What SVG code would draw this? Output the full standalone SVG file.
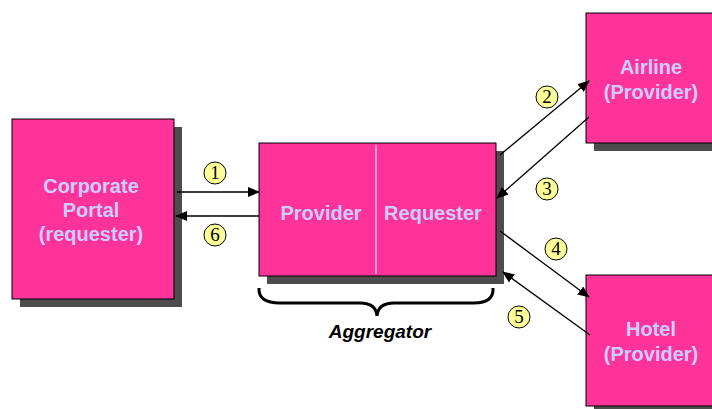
<svg xmlns="http://www.w3.org/2000/svg" width="712" height="409" viewBox="0 0 712 409">
<defs>
<marker id="ah" markerWidth="12" markerHeight="10" refX="11" refY="5" orient="auto" markerUnits="userSpaceOnUse">
<path d="M0,0 L12,5 L0,10 Z" fill="#000"/>
</marker>
<style>
.shadow{fill:#4D4D4D}
.box{fill:#FF3399;stroke:#000;stroke-width:1}
.lbl{font-family:"Liberation Sans",Arial,sans-serif;font-weight:bold;font-size:20px;fill:#CCCCFF;text-anchor:middle}
.conn{stroke:#000;stroke-width:1.3;fill:none;marker-end:url(#ah)}
.num circle{fill:#FFFF99;stroke:#000;stroke-width:1}
.num text{font-family:"Liberation Serif","Times New Roman",serif;font-size:19px;fill:#000;text-anchor:middle}
</style>
</defs>
<rect width="712" height="409" fill="#fff"/>
<g id="portal">
<rect class="shadow" x="20" y="127" width="162" height="180"/>
<rect class="box" x="12" y="119" width="162" height="180"/>
<text class="lbl" x="91" y="193">Corporate</text>
<text class="lbl" x="91" y="217">Portal</text>
<text class="lbl" x="91" y="241">(requester)</text>
</g>
<g id="aggregator">
<rect class="shadow" x="267" y="151" width="237" height="133"/>
<rect class="box" x="259" y="143" width="237" height="133"/>
<line x1="376" y1="145" x2="376" y2="274" stroke="#E8D8F0" stroke-width="1.2"/>
<text class="lbl" x="321" y="220">Provider</text>
<text class="lbl" x="433" y="220">Requester</text>
<path d="M259,288 Q258,303 280,303 L360,303 Q376,303 377,316 Q378,303 394,303 L474,303 Q494,303 493,288" fill="none" stroke="#000" stroke-width="3"/>
<text x="380" y="338" font-family="Liberation Sans,Arial,sans-serif" font-weight="bold" font-style="italic" font-size="19" text-anchor="middle" fill="#000">Aggregator</text>
</g>
<g id="airline">
<rect class="shadow" x="594" y="21" width="130" height="130"/>
<rect class="box" x="586" y="13" width="140" height="130"/>
<text class="lbl" x="651" y="74">Airline</text>
<text class="lbl" x="651" y="99">(Provider)</text>
</g>
<g id="hotel">
<rect class="shadow" x="594" y="283" width="130" height="130"/>
<rect class="box" x="586" y="275" width="140" height="131"/>
<text class="lbl" x="651" y="336">Hotel</text>
<text class="lbl" x="651" y="361">(Provider)</text>
</g>
<g id="connectors">
<line class="conn" x1="177" y1="192" x2="259" y2="192"/>
<line class="conn" x1="259" y1="216" x2="176" y2="216"/>
<line class="conn" x1="500" y1="155" x2="589" y2="81"/>
<line class="conn" x1="589" y1="117" x2="497" y2="198"/>
<line class="conn" x1="500" y1="231" x2="589" y2="297"/>
<line class="conn" x1="590" y1="335" x2="503" y2="272"/>
</g>
<g id="numbers" class="num">
<circle cx="215" cy="173" r="11"/><text x="215" y="179">1</text>
<circle cx="547" cy="97" r="11"/><text x="547" y="103">2</text>
<circle cx="547" cy="189" r="11"/><text x="547" y="195">3</text>
<circle cx="556" cy="249" r="11"/><text x="556" y="255">4</text>
<circle cx="519" cy="317" r="11"/><text x="519" y="323">5</text>
<circle cx="215" cy="235" r="11"/><text x="215" y="241">6</text>
</g>
</svg>
